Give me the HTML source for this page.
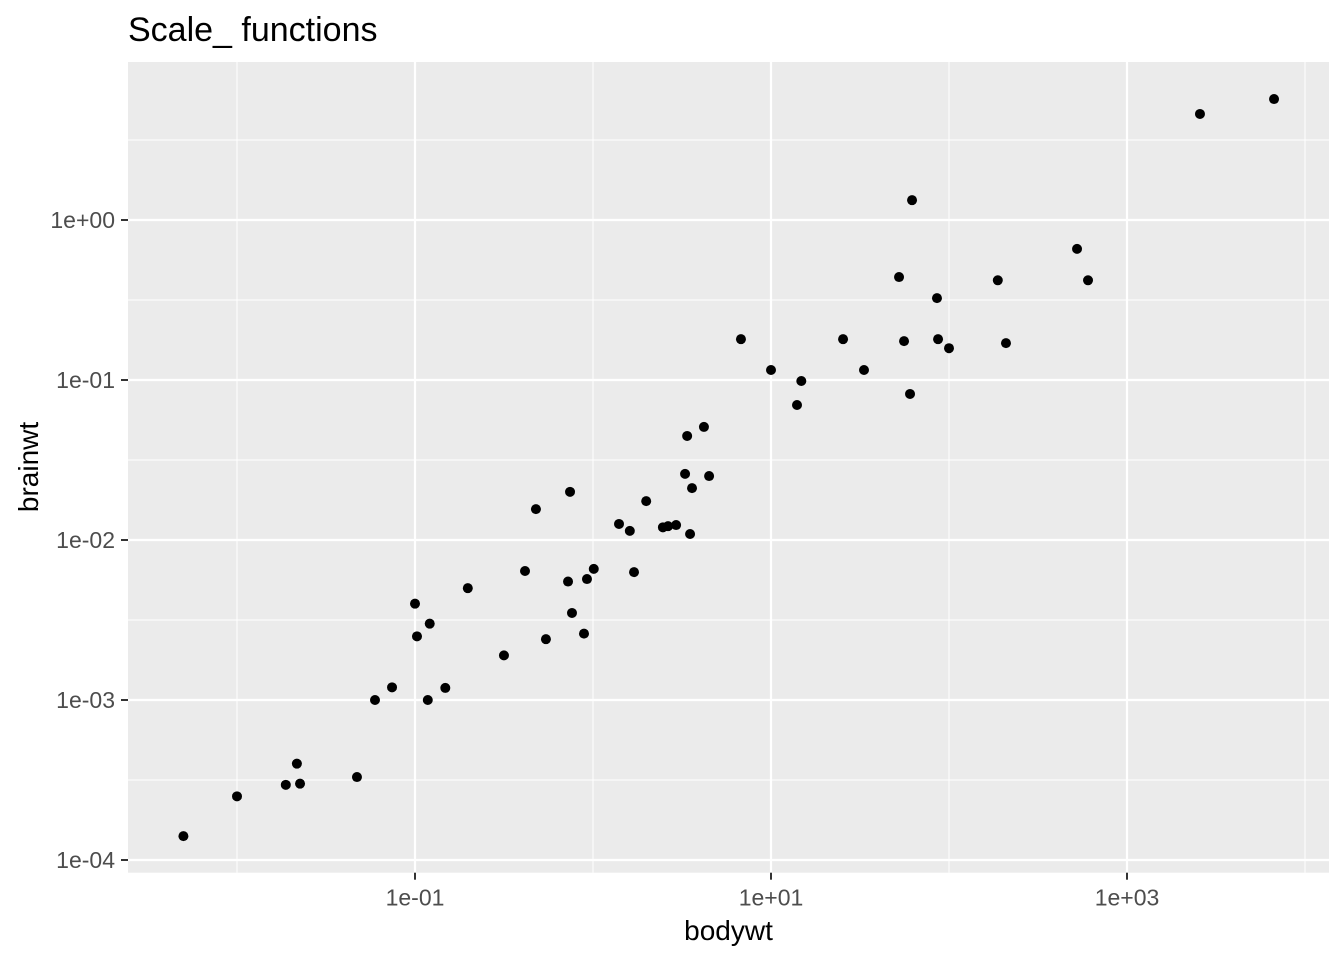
<!DOCTYPE html>
<html><head><meta charset="utf-8"><style>
html,body{margin:0;padding:0;background:#fff;}
svg{display:block;font-family:"Liberation Sans",Arial,sans-serif;}
</style></head><body>
<svg id="chart" width="1344" height="960" xmlns="http://www.w3.org/2000/svg">
<text x="128" y="41" font-size="34" fill="#000">Scale_ functions</text>
<rect x="128" y="62" width="1201" height="810.7" fill="#ebebeb"/>
<g id="grid"></g>
<g id="axes"></g>
<g id="points"></g>
<text x="728.5" y="940" font-size="28" text-anchor="middle" fill="#000">bodywt</text>
<text transform="translate(38,467) rotate(-90)" font-size="28" text-anchor="middle" fill="#000">brainwt</text>
</svg>
<script>
const bodywt = [0.005,0.01,0.0188,0.0217,0.0226,0.0472,0.0596,0.0743,0.1,0.1026,0.118,0.121,0.148,0.198,0.316,0.415,0.478,0.544,0.724,0.743,0.762,0.89,0.925,1.01,1.4,1.61,1.7,1.99,2.47,2.64,2.93,3.29,3.38,3.51,3.6,4.2,4.49,6.78,10,14,14.8,25.4,33.3,52.4,55.9,60.4,62,85.6,86.8,100,188,209,524,604,2570,6700];
const brainwt = [0.000141,0.00025,0.000295,0.0004,0.0003,0.00033,0.001,0.0012,0.004,0.0025,0.001,0.003,0.00119,0.005,0.0019,0.0064,0.0156,0.0024,0.0055,0.02,0.0035,0.0026,0.0057,0.0066,0.0126,0.0114,0.0063,0.0175,0.012,0.0122,0.0124,0.0259,0.0447,0.0109,0.0211,0.0509,0.0251,0.18,0.1155,0.0698,0.0986,0.18,0.1155,0.44,0.175,0.0818,1.33,0.325,0.18,0.158,0.42,0.17,0.66,0.42,4.6,5.7];
const xTicks = [0.1,10,1000];
const xTickLabels = ["1e-01","1e+01","1e+03"];
const yTicks = [1,0.1,0.01,0.001,0.0001];
const yTickLabels = ["1e+00","1e-01","1e-02","1e-03","1e-04"];
const xMinor = [0.01,1,100,10000];
const yMinor = [3.162,0.3162,0.03162,0.003162,0.0003162];

const NS="http://www.w3.org/2000/svg";
const L=128,R=1329,T=62,B=872.7;
function xs(v){return 593+178*Math.log10(v);}
function ys(v){return 220-160*Math.log10(v);}
function mk(tag,attrs,parent){const e=document.createElementNS(NS,tag);for(const k in attrs)e.setAttribute(k,attrs[k]);parent.appendChild(e);return e;}
const grid=document.getElementById('grid'),axes=document.getElementById('axes'),pts=document.getElementById('points');
xMinor.forEach(v=>{const x=xs(v);if(x<L||x>R)return;const l=mk('line',{x1:x,x2:x,y1:T,y2:B,stroke:'#fff','stroke-width':1},grid);

});
yMinor.forEach(v=>{const y=ys(v);if(y<T||y>B)return;const l=mk('line',{x1:L,x2:R,y1:y,y2:y,stroke:'#fff','stroke-width':1},grid);

});
xTicks.forEach((v,i)=>{const x=xs(v);
const g=mk('line',{x1:x,x2:x,y1:T,y2:B,stroke:'#fff','stroke-width':2.2},grid);


const t=mk('line',{x1:x,x2:x,y1:B,y2:B+7,stroke:'#333','stroke-width':2},axes);


const tx=mk('text',{x:x,y:B+33,'font-size':23,'text-anchor':'middle',fill:'#4d4d4d'},axes);tx.textContent=xTickLabels[i];

});
yTicks.forEach((v,i)=>{const y=ys(v);
const g=mk('line',{x1:L,x2:R,y1:y,y2:y,stroke:'#fff','stroke-width':2.2},grid);


const t=mk('line',{x1:L-7,x2:L,y1:y,y2:y,stroke:'#333','stroke-width':2},axes);


const tx=mk('text',{x:L-13,y:y+8,'font-size':23,'text-anchor':'end',fill:'#4d4d4d'},axes);tx.textContent=yTickLabels[i];

});
bodywt.forEach((b,i)=>{const c=mk('circle',{cx:xs(b),cy:ys(brainwt[i]),r:5,fill:'#000'},pts);

});
</script>
</body></html>
